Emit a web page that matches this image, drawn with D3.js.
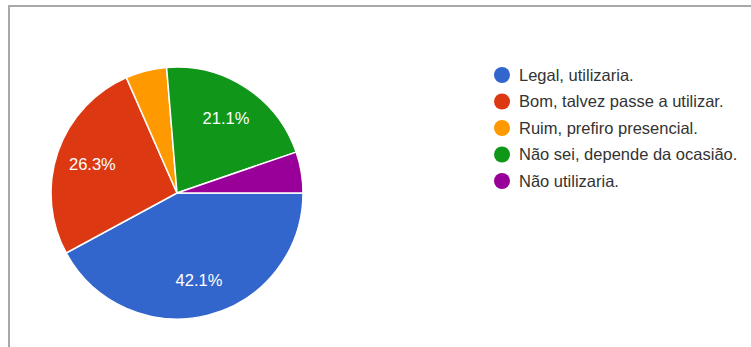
<!DOCTYPE html>
<html>
<head>
<meta charset="utf-8">
<script src="https://cdn.jsdelivr.net/npm/d3@7"></script>
<style>
  body { margin: 0; background: #fff; }
  svg { display: block; }
  .legend text { font-family: "Liberation Sans", Arial, sans-serif; font-size: 16.5px; fill: #333; }
  .slice-label { font-family: "Liberation Sans", Arial, sans-serif; font-size: 16.5px; fill: #fff; }
</style>
</head>
<body>
<div id="chart"></div>
<script>
var width = 751, height = 347;

// answers, in slice order (clockwise from 3 o'clock)
var categories = ["Legal, utilizaria.", "Bom, talvez passe a utilizar.", "Ruim, prefiro presencial.",
  "Não sei, depende da ocasião.", "Não utilizaria."];
var counts = [8, 5, 1, 4, 1];
var colors = ["#3366cc", "#dc3912", "#ff9900", "#109618", "#990099"];

var center = {x: 177, y: 193};
var radius = 126;

var svg = d3.select("#chart")
  .append("svg")
  .attr("width", width)
  .attr("height", height);

// frame of the screenshot
svg.append("path")
  .attr("d", "M9," + height + "V6H" + width)
  .attr("fill", "none")
  .attr("stroke", "#a8a8a8")
  .attr("stroke-width", 2);

var total = d3.sum(counts);
var data = categories.map(function(c, i) {
  return {name: c, value: counts[i], color: colors[i]};
});

var pie = d3.pie()
  .value(function(d) { return d.value; })
  .sort(null)
  .startAngle(Math.PI / 2)
  .endAngle(Math.PI / 2 + 2 * Math.PI);

var arc = d3.arc().innerRadius(0).outerRadius(radius);
var labelArc = d3.arc().innerRadius(radius * 0.71).outerRadius(radius * 0.71);

var g = svg.append("g")
  .attr("transform", "translate(" + center.x + "," + center.y + ")");

var slices = g.selectAll("g.slice")
  .data(pie(data))
  .enter()
  .append("g")
  .attr("class", "slice");

slices.append("path")
  .attr("d", arc)
  .attr("fill", function(d) { return d.data.color; })
  .attr("stroke", "#fff")
  .attr("stroke-width", 1.5);

// only the bigger slices get a percentage
slices.filter(function(d) { return d.data.value / total > 0.1; })
  .append("text")
  .attr("class", "slice-label")
  .attr("transform", function(d) { return "translate(" + labelArc.centroid(d) + ")"; })
  .attr("text-anchor", "middle")
  .attr("dy", "0.35em")
  .text(function(d) { return (d.data.value / total * 100).toFixed(1) + "%"; });

var legendScale = d3.scaleBand()
  .domain(categories)
  .range([61.75, 194.25]);

var legend = svg.append("g")
  .attr("class", "legend")
  .selectAll("g")
  .data(data)
  .enter()
  .append("g")
  .attr("transform", function(d) {
    return "translate(502," + (legendScale(d.name) + legendScale.bandwidth() / 2) + ")";
  });

legend.append("circle")
  .attr("r", 8)
  .attr("fill", function(d) { return d.color; });

legend.append("text")
  .attr("x", 17)
  .attr("dy", "0.35em")
  .text(function(d) { return d.name; });
</script>
</body>
</html>
